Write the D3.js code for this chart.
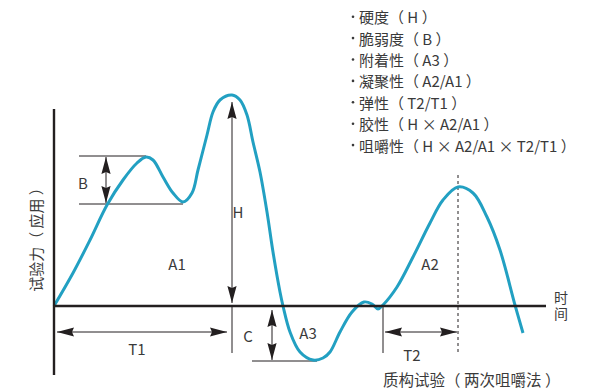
<!DOCTYPE html>
<html>
<head>
<meta charset="utf-8">
<script src="https://cdn.jsdelivr.net/npm/d3@7"></script>
<style>
  body { margin: 0; background: #fff; }
  text { font-family: "Noto Sans CJK SC", "Noto Sans", sans-serif; fill: #3a3a3a; }
</style>
</head>
<body>
<div id="chart"></div>
<script>
const w = 603, h = 390;

// texture profile curve: time vs force (arbitrary units)
const time  = [0, 4.75, 9, 13.25, 17.25, 20.75, 23, 24.75, 27.25, 29.75,
               32.25, 34.5, 36, 38.25, 39.75, 41.5, 44.5, 46.5, 48.25, 49.75,
               51.5, 53.25, 54.75, 56.5, 57.25, 59, 61.5, 64.75, 67.25, 69,
               71.5, 74.5, 77.5, 79.5, 81, 82.25, 85.75, 89.75, 94, 97.25,
               101, 104.75, 108.25, 111.5, 115.25, 117.25];
const force = [0, 16.5, 33, 50.5, 63, 71.5, 74.5, 73, 64.5, 56.5,
               52, 56.5, 68, 85.5, 97, 103, 105.5, 103, 95.5, 82,
               67, 47, 27, 7, 0, -13, -23, -27, -26, -23,
               -13, -3, 2, 1, -1.5, 0.5, 9.5, 24.5, 41.5, 53,
               59.5, 56.5, 44.5, 28, 0.5, -13.5];

// annotation values
const bTop = 75, bBottom = 51, bStart = 6.25, bPeakT = 23, bDipT = 32.25, bArrowT = 13;
const hT = 44.5, hValue = 105.5;
const cT = 54.5, cValue = -27.5, cStart = 49.5, cEnd = 65.75;
const t2Start = 82.25, t2Peak = 101;
const timeArrowF = -13, tickBottom = -23.5;
const xMax = 123, yTop = 98.5, yBottom = -34.5;

const marks = ["B", "A1", "H", "C", "A3", "T1", "T2", "A2"];
const markT = [7.25, 30.75, 46, 48.5, 63.5, 20.75, 89.5, 94];
const markF = [62, 21.5, 47.5, -14.5, -13, -21, -24, 21.5];

const props = ["硬度（ H ）", "脆弱度（ B ）", "附着性（ A3 ）", "凝聚性（ A2/A1 ）",
               "弹性（ T2/T1 ）", "胶性（ H × A2/A1 ）", "咀嚼性（ H × A2/A1 × T2/T1 ）"];

const svg = d3.select("#chart").append("svg")
    .attr("width", w)
    .attr("height", h);

const x = d3.scaleLinear().domain([0, xMax]).range([54, 546]);
const y = d3.scaleLinear().domain([0, 105]).range([306, 96]);

// arrow head
svg.append("defs").append("marker")
    .attr("id", "head")
    .attr("viewBox", "-17 -5 17 10")
    .attr("refX", 0).attr("refY", 0)
    .attr("markerWidth", 17).attr("markerHeight", 10)
    .attr("markerUnits", "userSpaceOnUse")
    .attr("orient", "auto-start-reverse")
    .append("path")
    .attr("d", "M0,0 L-17,-4.6 L-15,0 L-17,4.6 Z")
    .attr("fill", "#231f20");

function line(x1, y1, x2, y2) {
    return svg.append("line")
        .attr("x1", x1).attr("y1", y1)
        .attr("x2", x2).attr("y2", y2)
        .attr("stroke", "#231f20")
        .attr("stroke-width", 1);
}
function arrow(x1, y1, x2, y2) {
    return line(x1, y1, x2, y2)
        .attr("marker-start", "url(#head)")
        .attr("marker-end", "url(#head)");
}

// B
line(x(bStart), y(bTop), x(bPeakT), y(bTop));
line(x(bStart), y(bBottom), x(bDipT), y(bBottom));
arrow(x(bArrowT), y(bTop) + 1, x(bArrowT), y(bBottom) - 1);

// H + T1
arrow(x(hT), y(hValue) + 7, x(hT), y(0) - 3);
line(x(hT), y(0), x(hT), y(tickBottom));
arrow(x(0) + 3, y(timeArrowF), x(hT) - 5, y(timeArrowF));

// C
line(x(cStart), y(cValue), x(cEnd), y(cValue));
arrow(x(cT), y(0) + 4, x(cT), y(cValue) - 1);

// T2
line(x(t2Start), y(0), x(t2Start), y(tickBottom));
line(x(t2Peak), y(65.5), x(t2Peak), y(-23))
    .attr("stroke-dasharray", "3,3");
arrow(x(t2Start) + 2, y(timeArrowF), x(t2Peak) - 1, y(timeArrowF));

// curve
const pts = time.map((t, i) => [t, force[i]]);
svg.append("path")
    .datum(pts)
    .attr("d", d3.line()
        .x(d => x(d[0]))
        .y(d => y(d[1]))
        .curve(d3.curveCatmullRom.alpha(0.5)))
    .attr("fill", "none")
    .attr("stroke", "#22a0c2")
    .attr("stroke-width", 3)
    .attr("stroke-linecap", "butt");

// axes
svg.append("line")
    .attr("x1", x(0)).attr("x2", x(xMax))
    .attr("y1", y(0)).attr("y2", y(0))
    .attr("stroke", "#231f20").attr("stroke-width", 2.4);
svg.append("line")
    .attr("x1", x(0)).attr("x2", x(0))
    .attr("y1", y(yTop)).attr("y2", y(yBottom))
    .attr("stroke", "#231f20").attr("stroke-width", 2.4);

// mark labels
svg.selectAll(".mark")
    .data(marks)
    .enter().append("text")
    .attr("class", "mark")
    .attr("x", (d, i) => x(markT[i]))
    .attr("y", (d, i) => y(markF[i]))
    .attr("text-anchor", "middle")
    .attr("dominant-baseline", "central")
    .style("font-size", "15px")
    .text(d => d);

// axis titles
svg.append("text")
    .attr("transform", "translate(35,236) rotate(-90)")
    .attr("text-anchor", "middle")
    .attr("dominant-baseline", "central")
    .style("font-size", "15px")
    .text("试验力（ 应用 ）");

svg.append("text")
    .attr("x", 561)
    .attr("y", 291)
    .style("writing-mode", "vertical-rl")
    .style("font-size", "14px")
    .style("letter-spacing", "2px")
    .text("时间");

svg.append("text")
    .attr("x", 383).attr("y", 379)
    .attr("dominant-baseline", "central")
    .style("font-size", "15.5px")
    .text("质构试验（ 两次咀嚼法 ）");

// property list
const item = svg.selectAll(".prop")
    .data(props)
    .enter().append("g")
    .attr("class", "prop")
    .attr("transform", (d, i) => `translate(353,${16.7 + i * 21.4})`);
item.append("circle")
    .attr("r", 1.3)
    .attr("fill", "#3a3a3a");
item.append("text")
    .attr("x", 6)
    .attr("dominant-baseline", "central")
    .style("font-size", "15px")
    .text(d => d);
</script>
</body>
</html>
